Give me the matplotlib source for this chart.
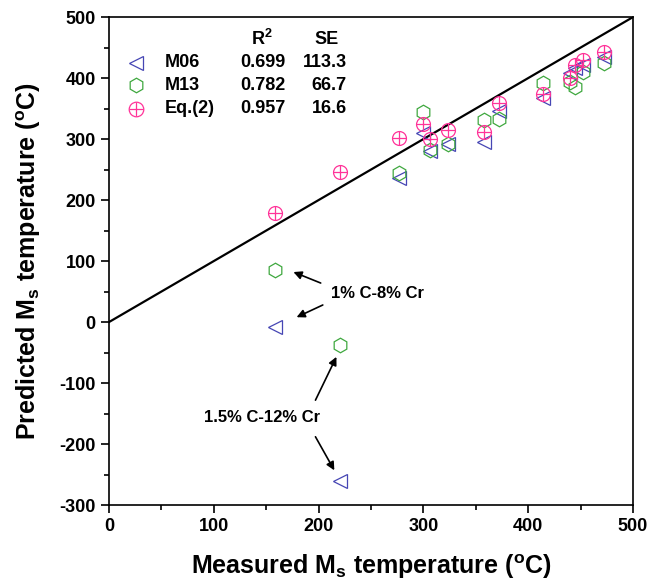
import numpy as np
import matplotlib
matplotlib.use('Agg')
import matplotlib.pyplot as plt

plt.rcParams['font.family'] = ['Liberation Sans', 'DejaVu Sans']
plt.rcParams['font.weight'] = 'bold'
plt.rcParams['axes.unicode_minus'] = False
plt.rcParams['mathtext.fontset'] = 'custom'
plt.rcParams['mathtext.rm'] = 'Liberation Sans:bold'
plt.rcParams['mathtext.bf'] = 'Liberation Sans:bold'
plt.rcParams['mathtext.it'] = 'Liberation Sans:bold'

# measured Ms (deg C) and predictions of the three models
measured = [158, 220, 277, 300, 306, 323, 358, 372, 414, 440, 445, 452, 472]
m06 = [-8, -260, 236, 310, 280, 292, 295, 346, 367, 408, 416, 421, 434]
m13 = [85, -38, 244, 344, 282, 292, 331, 333, 392, 394, 386, 410, 424]
eq2 = [178, 246, 302, 325, 300, 315, 311, 359, 374, 400, 421, 430, 443]

names = ['M06', 'M13', 'Eq.(2)']
r2 = ['0.699', '0.782', '0.957']
se = ['113.3', '66.7', '16.6']

blue = '#4646b4'
green = '#3fa83f'
pink = '#ff3399'

fig = plt.figure(figsize=(6.51, 5.88), dpi=100)
ax = fig.add_axes([0.1674, 0.141, 0.805, 0.830])

ax.plot([0, 500], [0, 500], color='black', lw=1.6, zorder=1)

ms = 10.5
ax.plot(measured, m06, ls='none', marker='<', ms=ms, mfc='none', mec=blue, mew=0.9)
ax.plot(measured, m13, ls='none', marker='h', ms=ms, mfc='none', mec=green, mew=0.9)
ax.plot(measured, eq2, ls='none', marker='o', ms=ms - 0.5, mfc='none', mec=pink, mew=0.9)
ax.plot(measured, eq2, ls='none', marker='+', ms=ms - 0.5, mec=pink, mew=0.9)

# legend table drawn in axes fraction
rows_y = [0.906, 0.860, 0.812]
mx = 0.052
fs = 13
styles = [dict(marker='<', mec=blue), dict(marker='h', mec=green), dict(marker='o', mec=pink)]
for y, st, nm, r, s in zip(rows_y, styles, names, r2, se):
    ax.plot([mx], [y], transform=ax.transAxes, ls='none', ms=ms, mfc='none', mew=0.9, **st)
    if st['marker'] == 'o':
        ax.plot([mx], [y], transform=ax.transAxes, ls='none', marker='+', ms=ms - 0.5, mec=pink, mew=0.9)
    ax.text(0.107, y, nm, transform=ax.transAxes, fontsize=fs, fontweight='bold', va='center')
    ax.text(0.337, y, r, transform=ax.transAxes, fontsize=fs, fontweight='bold', va='center', ha='right')
    ax.text(0.454, y, s, transform=ax.transAxes, fontsize=fs, fontweight='bold', va='center', ha='right')
ax.text(0.292, 0.955, r'R$^{2}$', transform=ax.transAxes, fontsize=fs, fontweight='bold', va='center', ha='center')
ax.text(0.416, 0.955, 'SE', transform=ax.transAxes, fontsize=fs, fontweight='bold', va='center', ha='center')

# annotations
arrow = dict(arrowstyle='-|>', color='black', lw=1.2, mutation_scale=12, shrinkA=0, shrinkB=0)
ax.text(212, 47, '1% C-8% Cr', fontsize=12, fontweight='bold', va='center')
ax.annotate('', xy=(176, 82), xytext=(202, 64), arrowprops=arrow)
ax.annotate('', xy=(179, 8), xytext=(204, 28), arrowprops=arrow)
ax.text(146, -156, '1.5% C-12% Cr', fontsize=12, fontweight='bold', va='center', ha='center')
ax.annotate('', xy=(217, -57), xytext=(197, -128), arrowprops=arrow)
ax.annotate('', xy=(215, -243), xytext=(197, -188), arrowprops=arrow)

ax.set_xlim(0, 500)
ax.set_ylim(-300, 500)
ax.set_xticks(np.arange(0, 501, 100))
ax.set_yticks(np.arange(-300, 501, 100))
ax.set_xticks(np.arange(50, 500, 100), minor=True)
ax.set_yticks(np.arange(-250, 500, 100), minor=True)
ax.tick_params(which='major', direction='out', length=6, width=1.2, labelsize=13)
ax.tick_params(which='minor', direction='out', length=3.5, width=1.2)
for lab in ax.get_xticklabels() + ax.get_yticklabels():
    lab.set_fontweight('bold')
for sp in ax.spines.values():
    sp.set_linewidth(1.2)

ax.set_xlabel(r'Measured M$_{\mathrm{s}}$ temperature ($^{\mathrm{o}}$C)', fontsize=18, fontweight='bold', labelpad=12)
ax.set_ylabel(r'Predicted M$_{\mathrm{s}}$ temperature ($^{\mathrm{o}}$C)', fontsize=18, fontweight='bold', labelpad=12)

fig.savefig('out.png', dpi=100)
